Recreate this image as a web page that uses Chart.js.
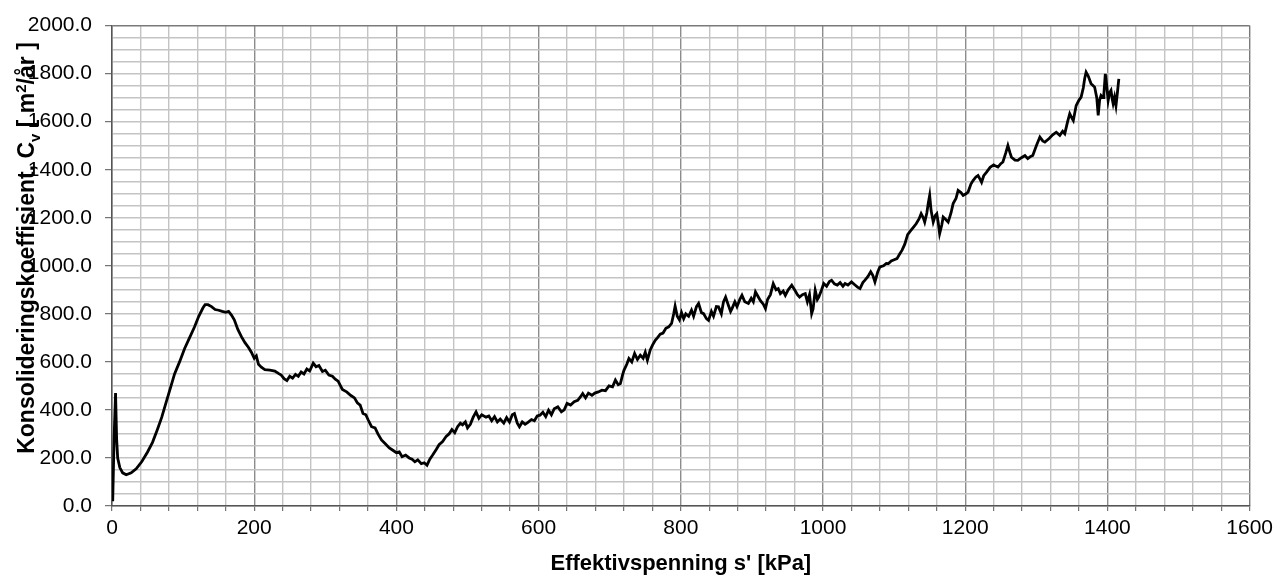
<!DOCTYPE html>
<html>
<head>
<meta charset="utf-8">
<script src="https://cdn.jsdelivr.net/npm/chart.js@4/dist/chart.umd.min.js"></script>
<style>
  html, body { margin: 0; padding: 0; background: #fff; }
  #wrap { width: 1278px; height: 579px; }
</style>
</head>
<body>
<div id="wrap"><canvas id="cvChart" width="1278" height="579"></canvas></div>
<script>
'use strict';

// effective stress s' [kPa]
const effStress = [
  1, 3, 5, 6.5, 8, 11, 15, 20, 27, 34,
  42, 50, 57, 64, 70, 76, 82, 88, 95, 102,
  109, 116, 122, 128, 131, 135, 140, 145, 150, 155,
  160, 164, 168, 172, 177, 182, 187, 192, 196, 200,
  203, 206, 210, 215, 222, 229, 234, 238, 242, 246,
  250, 254, 258, 262, 266, 270, 274, 278, 283, 287,
  291, 296, 300, 305, 310, 314, 318, 324, 330, 336,
  341, 345, 349, 353, 357, 360, 365, 370, 374, 379,
  384, 390, 395, 400, 404, 408, 413, 418, 422, 426,
  430, 435, 439, 443, 447, 451, 456, 460, 465, 470,
  474, 478, 482, 486, 490, 493, 497, 500, 504, 508,
  512, 516, 520, 526, 530, 534, 538, 542, 546, 551,
  555, 559, 563, 566, 570, 573, 577, 581, 585, 590,
  594, 598, 602, 606, 610, 614, 618, 622, 627, 632,
  636, 640, 645, 650, 655, 659, 662, 666, 670, 675,
  679, 684, 689, 694, 699, 704, 708, 712, 715, 718,
  720, 724, 727, 731, 735, 739, 743, 747, 750, 753,
  757, 760, 764, 767, 771, 775, 779, 783, 787, 790,
  792, 795, 798, 801, 804, 807, 811, 815, 818, 822,
  825, 829, 832, 836, 839, 843, 846, 850, 853, 857,
  860, 863, 867, 870, 872, 876, 879, 883, 886, 890,
  895, 899, 902, 905, 909, 912, 916, 919, 922, 926,
  930, 934, 937, 940, 944, 947, 951, 956, 960, 964,
  967, 971, 975, 978, 981, 984, 986, 989, 992, 994,
  998, 1001, 1005, 1009, 1012, 1016, 1020, 1024, 1028, 1031,
  1035, 1040, 1045, 1049, 1052, 1056, 1059, 1063, 1067, 1070,
  1073, 1077, 1080, 1085, 1089, 1092, 1096, 1100, 1104, 1108,
  1111, 1115, 1119, 1123, 1127, 1131, 1135, 1138, 1141, 1143,
  1146, 1148, 1150, 1152, 1155, 1158, 1160, 1162, 1164, 1167,
  1169, 1172, 1176, 1180, 1183, 1187, 1190, 1194, 1197, 1201,
  1204, 1208, 1211, 1215, 1218, 1221, 1223, 1226, 1230, 1235,
  1240, 1243, 1246, 1250, 1253, 1257, 1260, 1263, 1265, 1270,
  1274, 1279, 1284, 1288, 1292, 1295, 1300, 1305, 1309, 1312,
  1318, 1323, 1328, 1333, 1337, 1340, 1344, 1347, 1350, 1352,
  1356, 1360, 1363, 1366, 1368, 1370, 1373, 1377, 1380, 1382,
  1385, 1387, 1389, 1391, 1394, 1395, 1397, 1399, 1401, 1403,
  1405, 1407, 1408, 1410, 1412, 1414, 1416
];

// consolidation coefficient Cv [m2/år]
const cvValues = [
  20, 290, 470, 280, 200, 160, 138, 130, 138, 155,
  185, 225, 265, 320, 370, 430, 490, 550, 600, 655,
  700, 745, 790, 825, 838, 838, 830, 818, 815, 810,
  806, 810, 795, 775, 735, 705, 680, 660, 640, 615,
  625, 590, 578, 568, 566, 562, 552, 545, 530, 522,
  540, 532, 548, 540, 558, 550, 570, 562, 595, 580,
  585, 560, 565, 545, 540, 528, 520, 485, 475, 460,
  450, 430, 420, 385, 380, 360, 330, 325, 300, 275,
  260, 242, 232, 222, 225, 205, 212, 200, 195, 184,
  192, 176, 180, 170, 195, 212, 235, 255, 268, 290,
  300, 318, 305, 330, 345, 338, 350, 325, 340, 370,
  392, 365, 380, 370, 375, 355, 372, 350, 362, 345,
  368, 350, 380, 385, 345, 330, 350, 340, 348, 360,
  355, 375, 378, 390, 372, 399, 380, 405, 413, 392,
  400, 427, 420, 434, 440, 455, 468, 450, 470, 461,
  470, 475, 482, 480, 500, 496, 524, 505, 510, 545,
  565, 590, 614, 600, 635, 610, 628, 615, 640, 607,
  650, 669, 690, 700, 715, 720, 740, 746, 760, 800,
  832, 790, 775, 805, 780, 800, 790, 815, 790, 830,
  843, 805, 801, 780, 773, 810, 790, 830, 829, 800,
  850, 870, 835, 810, 822, 850, 830, 860, 877, 850,
  843, 865, 850, 891, 870, 855, 840, 822, 860, 880,
  926, 900, 905, 884, 895, 877, 900, 919, 900, 880,
  870, 880, 884, 850, 880, 801, 820, 898, 860, 870,
  900, 926, 915, 935, 940, 925, 920, 930, 915, 926,
  920, 933, 920, 910, 905, 930, 940, 955, 975, 960,
  933, 975, 995, 1000, 1010, 1009, 1020, 1025, 1030, 1050,
  1064, 1090, 1130, 1145, 1160, 1175, 1195, 1217, 1200, 1182,
  1220, 1260, 1293, 1230, 1182, 1210, 1217, 1180, 1134, 1170,
  1203, 1195, 1182, 1220, 1259, 1280, 1314, 1305, 1293, 1300,
  1307, 1340, 1355, 1370, 1376, 1360, 1348, 1375, 1390, 1410,
  1420, 1415, 1411, 1425, 1432, 1470, 1501, 1470, 1452, 1440,
  1439, 1450, 1459, 1446, 1455, 1459, 1500, 1536, 1520, 1515,
  1530, 1545, 1556, 1543, 1560, 1550, 1600, 1633, 1615, 1605,
  1667, 1690, 1702, 1740, 1780, 1806, 1790, 1758, 1750, 1744,
  1700, 1626, 1690, 1709, 1700, 1715, 1799, 1750, 1688, 1720,
  1730, 1690, 1675, 1702, 1667, 1720, 1778
];

const xMin = 0, xMax = 1600, xMinorStep = 40, xMajorStep = 200;
const yMin = 0, yMax = 2000, yMinorStep = 50, yMajorStep = 200;

const xTitle = "Effektivspenning s' [kPa]";
const yTitleParts = [
  { text: 'Konsolideringskoeffisient, C', size: 23, shift: 0 },
  { text: 'v', size: 15, shift: 6 },
  { text: ' [ m', size: 23, shift: 0 },
  { text: '2', size: 15, shift: -8 },
  { text: '/år ]', size: 23, shift: 0 }
];

const fontFamily = '"Liberation Sans", Arial, sans-serif';
const minorGrid = '#c4c4c4';
const majorGrid = '#8c8c8c';
const frameGrid = '#7a7a7a';
const axisLine = '#555555';

const points = effStress.map((x, i) => ({ x, y: cvValues[i] }));

const yTitlePlugin = {
  id: 'yTitle',
  afterDraw(chart) {
    const ctx = chart.ctx;
    ctx.save();
    ctx.translate(26, 248);
    ctx.rotate(-Math.PI / 2);
    ctx.fillStyle = '#000';
    ctx.textBaseline = 'alphabetic';
    ctx.textAlign = 'left';
    let total = 0;
    yTitleParts.forEach(p => {
      ctx.font = `bold ${p.size}px ${fontFamily}`;
      p.w = ctx.measureText(p.text).width;
      total += p.w;
    });
    let cx = -total / 2;
    yTitleParts.forEach(p => {
      ctx.font = `bold ${p.size}px ${fontFamily}`;
      ctx.fillText(p.text, cx, 8 + p.shift);
      cx += p.w;
    });
    ctx.restore();
  }
};

const canvas = document.getElementById('cvChart');
new Chart(canvas.getContext('2d'), {
  type: 'line',
  data: {
    datasets: [{
      data: points,
      borderColor: '#000',
      borderWidth: 2.8,
      pointRadius: 0,
      tension: 0,
      fill: false
    }]
  },
  options: {
    responsive: false,
    animation: false,
    events: [],
    layout: { padding: { top: 25, right: 26, left: 0, bottom: 0 } },
    plugins: {
      legend: { display: false },
      tooltip: { enabled: false }
    },
    scales: {
      x: {
        type: 'linear',
        min: xMin,
        max: xMax,
        afterFit: scale => { scale.height = 73; },
        border: { color: axisLine, width: 1.5 },
        grid: {
          lineWidth: 1.4,
          color: c => {
            const v = c.tick.value;
            if (v === xMax) return frameGrid;
            return v % xMajorStep === 0 ? majorGrid : minorGrid;
          },
          tickColor: axisLine,
          tickLength: 5,
          tickWidth: 1
        },
        ticks: {
          stepSize: xMinorStep,
          autoSkip: false,
          maxRotation: 0,
          maxTicksLimit: 1000,
          padding: 5,
          color: '#000',
          font: { family: fontFamily, size: 21 },
          callback: v => (v % xMajorStep === 0 ? String(v) : '')
        },
        title: {
          display: true,
          text: xTitle,
          color: '#000',
          font: { family: fontFamily, size: 22, weight: 'bold' },
          padding: { top: 0, bottom: 2 }
        }
      },
      y: {
        type: 'linear',
        min: yMin,
        max: yMax,
        afterFit: scale => { scale.width = 112; },
        border: { color: axisLine, width: 1.5 },
        grid: {
          lineWidth: 1.4,
          color: c => (c.tick.value === yMax ? frameGrid : minorGrid),
          tickColor: c => (c.tick.value % yMajorStep === 0 ? axisLine : 'rgba(0,0,0,0)'),
          tickLength: 7,
          tickWidth: 1
        },
        ticks: {
          stepSize: yMinorStep,
          autoSkip: false,
          maxTicksLimit: 1000,
          padding: 13,
          color: '#000',
          font: { family: fontFamily, size: 21 },
          callback: v => (v % yMajorStep === 0 ? v.toFixed(1) : '')
        }
      }
    }
  },
  plugins: [yTitlePlugin]
});
</script>
</body>
</html>
